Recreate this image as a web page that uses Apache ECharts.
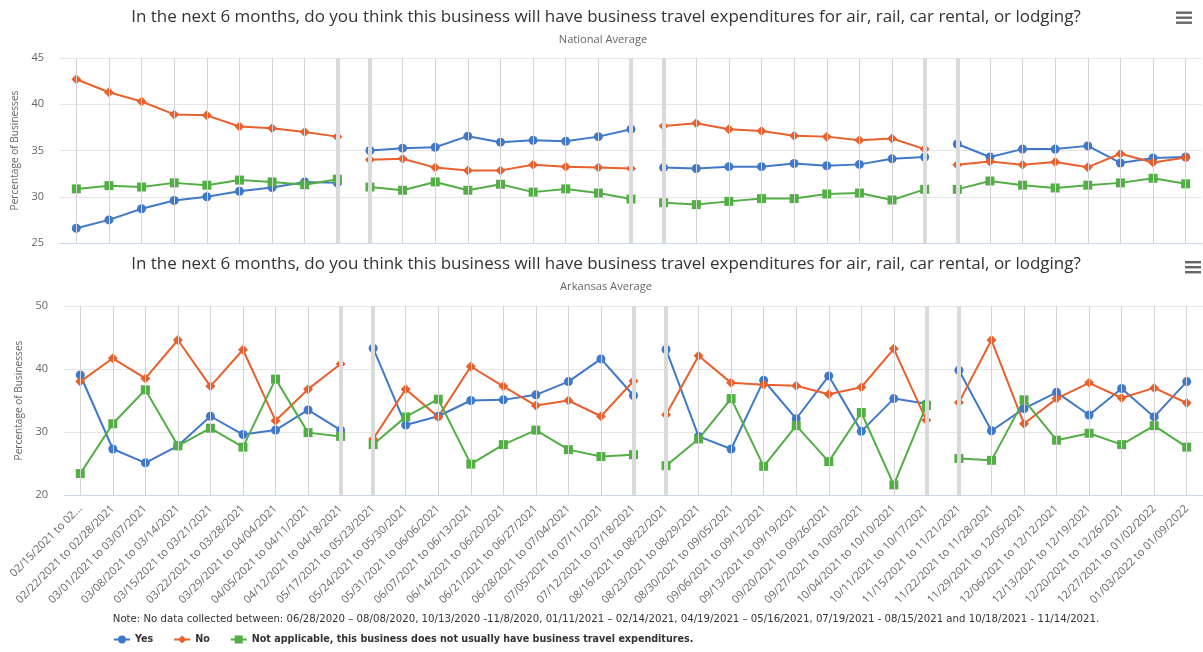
<!DOCTYPE html>
<html><head><meta charset="utf-8">
<script src="https://cdn.jsdelivr.net/npm/echarts@6/dist/echarts.min.js"></script>
<style>html,body{margin:0;padding:0;background:#fff}#c{width:1203px;height:652px}</style>
</head><body><div id="c"></div>
<script>
// ---------------- data ----------------
const categories = [
  "02/15/2021 to 02/21/2021","02/22/2021 to 02/28/2021","03/01/2021 to 03/07/2021","03/08/2021 to 03/14/2021","03/15/2021 to 03/21/2021","03/22/2021 to 03/28/2021","03/29/2021 to 04/04/2021","04/05/2021 to 04/11/2021","04/12/2021 to 04/18/2021",
  "05/17/2021 to 05/23/2021","05/24/2021 to 05/30/2021","05/31/2021 to 06/06/2021","06/07/2021 to 06/13/2021","06/14/2021 to 06/20/2021","06/21/2021 to 06/27/2021","06/28/2021 to 07/04/2021","07/05/2021 to 07/11/2021","07/12/2021 to 07/18/2021",
  "08/16/2021 to 08/22/2021","08/23/2021 to 08/29/2021","08/30/2021 to 09/05/2021","09/06/2021 to 09/12/2021","09/13/2021 to 09/19/2021","09/20/2021 to 09/26/2021","09/27/2021 to 10/03/2021","10/04/2021 to 10/10/2021","10/11/2021 to 10/17/2021",
  "11/15/2021 to 11/21/2021","11/22/2021 to 11/28/2021","11/29/2021 to 12/05/2021","12/06/2021 to 12/12/2021","12/13/2021 to 12/19/2021","12/20/2021 to 12/26/2021","12/27/2021 to 01/02/2022","01/03/2022 to 01/09/2022"
];
// index where each data-collection segment starts
const segmentStarts = [0, 9, 18, 27];

const seriesNames = ["Yes", "No", "Not applicable, this business does not usually have business travel expenditures."];

const nationalYes = [26.6,27.5,28.7,29.6,30.0,30.6,31.0,31.6,31.5, 35.0,35.25,35.35,36.55,35.9,36.1,36.0,36.5,37.3, 33.15,33.05,33.25,33.25,33.6,33.35,33.5,34.1,34.3, 35.7,34.3,35.15,35.15,35.5,33.65,34.2,34.3];
const nationalNo  = [42.7,41.3,40.3,38.9,38.8,37.6,37.4,37.0,36.5, 34.0,34.1,33.15,32.85,32.85,33.45,33.25,33.15,33.05, 37.65,37.95,37.3,37.1,36.6,36.5,36.1,36.3,35.15, 33.45,33.8,33.45,33.75,33.2,34.65,33.7,34.25];
const nationalNA  = [30.85,31.2,31.05,31.5,31.25,31.8,31.6,31.3,31.9, 31.05,30.7,31.6,30.7,31.35,30.5,30.85,30.4,29.75, 29.35,29.15,29.5,29.8,29.8,30.3,30.4,29.65,30.8, 30.8,31.7,31.25,30.95,31.25,31.5,32.0,31.4];

const arkansasYes = [39.05,27.3,25.1,27.8,32.5,29.6,30.3,33.5,30.3, 43.3,31.1,32.5,35.0,35.1,35.9,38.0,41.6,35.8, 43.1,29.3,27.3,38.2,32.1,38.9,30.1,35.3,34.5, 39.8,30.2,33.7,36.3,32.7,36.9,32.4,38.0];
const arkansasNo  = [38.0,41.7,38.5,44.6,37.25,43.05,31.8,36.8,40.8, 28.9,36.8,32.4,40.4,37.25,34.2,35.0,32.5,38.1, 32.75,42.1,37.8,37.5,37.35,36.0,37.1,43.2,31.85, 34.7,44.6,31.3,35.3,37.8,35.4,37.0,34.6];
const arkansasNA  = [23.4,31.3,36.7,27.8,30.6,27.6,38.4,29.9,29.3, 28.0,32.4,35.2,24.9,28.0,30.3,27.2,26.1,26.4, 24.65,28.9,35.3,24.55,31.0,25.3,33.1,21.6,34.2, 25.8,25.5,35.1,28.7,29.8,28.0,31.0,27.6];

const nationalTicks = [25, 30, 35, 40, 45];
const arkansasTicks = [20, 30, 40, 50];

const titleText = "In the next 6 months, do you think this business will have business travel expenditures for air, rail, car rental, or lodging?";
const subtitles = ["National Average", "Arkansas Average"];
const yAxisTitle = "Percentage of Businesses";
const noteText = "Note: No data collected between: 06/28/2020 \u2013 08/08/2020, 10/13/2020 -11/8/2020, 01/11/2021 \u2013 02/14/2021, 04/19/2021 \u2013 05/16/2021, 07/19/2021 - 08/15/2021 and 10/18/2021 - 11/14/2021.";

// ---------------- styling ----------------
const FONT = "'Open Sans', 'Noto Sans', sans-serif";
const NARROW = "'Liberation Sans Narrow', 'DejaVu Sans Condensed', 'Open Sans', sans-serif";
const colors = ["#4178c8", "#e8602d", "#53ae45"];
const symbols = ["circle", "diamond", "rect"];
const symbolSizes = [9, 10, 9];

const measureCtx = document.createElement('canvas').getContext('2d');
function fitSize(text, family, weight, target) {
  measureCtx.font = weight + ' 100px ' + family;
  return target / measureCtx.measureText(text).width * 100;
}
const titleSize = fitSize(titleText, FONT, 'normal', 950);
const subSize = fitSize(subtitles[1], FONT, 'normal', 92);
const ySize = fitSize(yAxisTitle, FONT, 'normal', 120);
const xLabSize = fitSize(categories[1], FONT, 'normal', 134);
const noteSize = fitSize(noteText, NARROW, 'normal', 987);
const legendSize = fitSize(seriesNames[2], NARROW, 'bold', 442);

function segmentSeries(values, k, gi) {
  return segmentStarts.map((s, j) => {
    const e = j + 1 < segmentStarts.length ? segmentStarts[j + 1] - 1 : values.length - 1;
    return {
      type: 'line', name: seriesNames[k], xAxisIndex: gi, yAxisIndex: gi,
      data: values.map((v, i) => (i >= s && i <= e ? v : null)),
      symbol: symbols[k], symbolSize: symbolSizes[k], showAllSymbol: true, connectNulls: false,
      lineStyle: { color: colors[k], width: 2 }, itemStyle: { color: colors[k] },
      z: 3, animation: false
    };
  });
}
function guideSeries(gi) {
  const lines = categories.map(c => ({ xAxis: c, lineStyle: { color: '#d4d4d4', width: 1, type: 'solid', opacity: 1 } }));
  segmentStarts.slice(1).forEach(s => {
    lines.push({ xAxis: categories[s - 1], lineStyle: { color: '#dadada', width: 4, type: 'solid', opacity: 1 } });
    lines.push({ xAxis: categories[s], lineStyle: { color: '#dadada', width: 4, type: 'solid', opacity: 1 } });
  });
  return {
    type: 'line', xAxisIndex: gi, yAxisIndex: gi, data: categories.map(() => null),
    symbol: 'none', silent: true, z: 1, animation: false,
    markLine: { silent: true, symbol: ['none', 'none'], label: { show: false }, animation: false,
      lineStyle: { type: 'solid', opacity: 1 }, emphasis: { disabled: true }, data: lines }
  };
}
function yAxisFor(ticks, gi) {
  return {
    type: 'value', gridIndex: gi, min: ticks[0], max: ticks[ticks.length - 1], interval: ticks[1] - ticks[0],
    axisLine: { show: false }, axisTick: { show: false },
    splitLine: { lineStyle: { color: '#e6e6e6' } },
    axisLabel: { color: '#666', fontSize: 11, fontFamily: FONT, margin: 16 },
    name: yAxisTitle, nameLocation: 'middle', nameGap: 38,
    nameTextStyle: { color: '#666', fontSize: ySize, fontFamily: FONT }
  };
}
function hamburger(x, y) {
  return [0, 5, 10].map(d => ({ type: 'rect', shape: { x: x, y: y + d, width: 16, height: 2.4 }, style: { fill: '#666' }, silent: true }));
}

const option = {
  backgroundColor: '#fff',
  animation: false,
  grid: [
    { left: 60, right: 1, top: 58, height: 185 },
    { left: 64, right: 0, top: 306, height: 189 }
  ],
  xAxis: [0, 1].map(gi => ({
    type: 'category', gridIndex: gi, data: categories, boundaryGap: true,
    axisLine: { lineStyle: { color: '#ccd6eb' } }, axisTick: { show: false },
    splitLine: { show: false },
    axisLabel: gi === 0 ? { show: false } : {
      show: true, interval: 0, rotate: 45, color: '#666', fontSize: xLabSize, fontFamily: FONT, margin: 12,
      formatter: (v, i) => (i === 0 ? v.slice(0, 16) + '...' : v)
    }
  })),
  yAxis: [yAxisFor(nationalTicks, 0), yAxisFor(arkansasTicks, 1)],
  legend: {
    data: seriesNames, left: 113, top: 634, padding: 0, itemWidth: 16, itemHeight: 10, itemGap: 20,
    textStyle: { color: '#333', fontWeight: 'bold', fontSize: legendSize, fontFamily: NARROW }
  },
  graphic: [
    { type: 'text', x: 606, y: 17, style: { text: titleText, fill: '#333', fontSize: titleSize, fontFamily: FONT, align: 'center', verticalAlign: 'middle' } },
    { type: 'text', x: 603, y: 40, style: { text: subtitles[0], fill: '#666', fontSize: subSize, fontFamily: FONT, align: 'center', verticalAlign: 'middle' } },
    { type: 'text', x: 606, y: 264, style: { text: titleText, fill: '#333', fontSize: titleSize, fontFamily: FONT, align: 'center', verticalAlign: 'middle' } },
    { type: 'text', x: 606, y: 287, style: { text: subtitles[1], fill: '#666', fontSize: subSize, fontFamily: FONT, align: 'center', verticalAlign: 'middle' } },
    { type: 'text', x: 606, y: 619, style: { text: noteText, fill: '#333', fontSize: noteSize, fontFamily: NARROW, align: 'center', verticalAlign: 'middle' } },
    ...hamburger(1176, 11.5),
    ...hamburger(1185, 261)
  ],
  series: [
    guideSeries(0), guideSeries(1),
    ...segmentSeries(nationalYes, 0, 0), ...segmentSeries(nationalNo, 1, 0), ...segmentSeries(nationalNA, 2, 0),
    ...segmentSeries(arkansasYes, 0, 1), ...segmentSeries(arkansasNo, 1, 1), ...segmentSeries(arkansasNA, 2, 1)
  ]
};
const chart = echarts.init(document.getElementById('c'));
chart.setOption(option);
</script>
</body></html>
